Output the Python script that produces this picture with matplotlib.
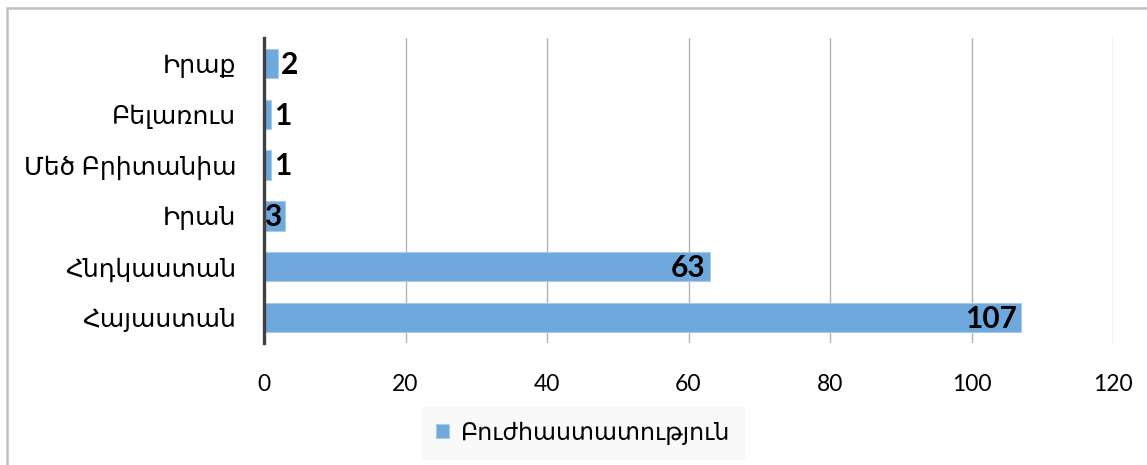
import matplotlib.pyplot as plt
from matplotlib.patches import Rectangle

countries = ['Հայաստան', 'Հնդկաստան', 'Իրան', 'Մեծ Բրիտանիա', 'Բելառուս', 'Իրաք']
values = [107, 63, 3, 1, 1, 2]
series_name = 'Բուժհաստատություն'
xticks = [0, 20, 40, 60, 80, 100, 120]

plt.rcParams['font.family'] = ['Lato', 'DejaVu Sans']

fig = plt.figure(figsize=(11.47, 4.65), dpi=100)
ax = fig.add_axes([264/1147, 1-343/465, (1113-264)/1147, (343-38)/465])

bars = ax.barh(range(len(countries)), values, height=0.58, color='#6fa8dc',
               edgecolor='#a9cbea', linewidth=0.8, label=series_name, zorder=2)

ax.set_xlim(0, 120)
ax.set_ylim(-0.5, len(countries) - 0.5)
ax.set_xticks(xticks)
ax.set_yticks(range(len(countries)))
ax.set_yticklabels(countries, fontsize=18)
ax.tick_params(axis='x', labelsize=16.5, length=0, pad=22)
ax.tick_params(axis='y', length=0, pad=20)
ax.grid(axis='x', color='#b4b4b4', linewidth=1.0, zorder=0)
for s in ['top', 'right', 'bottom']:
    ax.spines[s].set_visible(False)
ax.spines['left'].set_color('#404040')
ax.spines['left'].set_linewidth(2.4)
ax.spines['left'].set_zorder(3)

for i, v in enumerate(values):
    if v >= 3:
        ax.annotate(str(v), (v, i), xytext=(-3, -1), textcoords='offset points',
                    ha='right', va='center', fontsize=21.5, fontweight='bold', color='black')
    else:
        ax.annotate(str(v), (v, i), xytext=(2, -1), textcoords='offset points',
                    ha='left', va='center', fontsize=21.5, fontweight='bold', color='black')

leg = fig.legend(loc='center', bbox_to_anchor=(583/1147, 1-433/465), fontsize=17,
                 frameon=True, fancybox=False, handlelength=0.55, handleheight=0.55,
                 handletextpad=0.5, borderpad=0.6)
leg.get_frame().set_facecolor('#f8f8f8')
leg.get_frame().set_edgecolor('#f8f8f8')

fig.patches.append(Rectangle((7/1147, -0.1), 1.2, 1.1 - 8/465, transform=fig.transFigure,
                             fill=False, edgecolor='#c0c0c0', linewidth=1.8))

fig.savefig('out.png', dpi=100)
